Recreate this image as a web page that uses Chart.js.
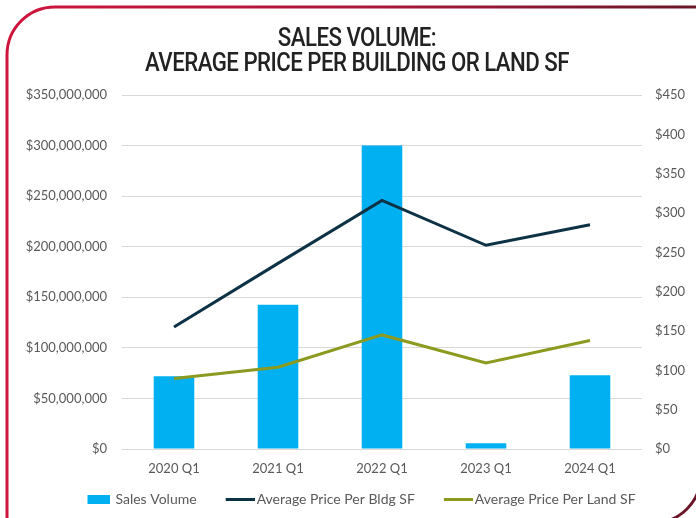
<!DOCTYPE html>
<html>
<head>
<meta charset="utf-8">
<script src="https://cdn.jsdelivr.net/npm/chart.js@4"></script>
<style>
  html, body { margin: 0; padding: 0; background: #fff; }
  .wrap { position: relative; width: 696px; height: 518px; }
  .title {
    position: absolute; left: 9px; top: 25px; width: 696px;
    text-align: center; color: #222;
    font-family: Roboto, sans-serif; font-weight: 500; font-size: 25px;
    line-height: 25px; letter-spacing: -0.6px;
    transform: scaleX(0.89); transform-origin: 348px 0;
  }
</style>
</head>
<body>
<div class="wrap">
  <canvas id="salesChart" width="696" height="518"></canvas>
  <div class="title">SALES VOLUME:<br>AVERAGE PRICE PER BUILDING OR LAND SF</div>
</div>
<script>
    // data
    const quarters = ['2020 Q1', '2021 Q1', '2022 Q1', '2023 Q1', '2024 Q1'];
    const salesVolume = [72000000, 142500000, 300000000, 5800000, 73000000];
    const pricePerBldgSf = [155, 236, 316, 259, 285];
    const pricePerLandSf = [89.5, 104, 145, 109.5, 138];

    const blue = '#00b0f0';
    const navy = '#0d3245';
    const olive = '#8d9a20';
    const labelFont = { family: 'Lato, "Open Sans", sans-serif', size: 13 };

    // legend symbols: coloured part sits on the right so it hugs the label text
    function legendSwatch(color, w, h, mark) {
        const c = document.createElement('canvas');
        c.width = w;
        c.height = h;
        const g = c.getContext('2d');
        g.fillStyle = color;
        g.fillRect(w - mark, 0, mark, h);
        return c;
    }

    // red rounded frame behind the chart
    const framePlugin = {
        id: 'frame',
        beforeDraw(chart) {
            const ctx = chart.ctx;
            ctx.save();
            const grad = ctx.createLinearGradient(0, 0, 696, 0);
            grad.addColorStop(0, '#d0143c');
            grad.addColorStop(0.55, '#a8183a');
            grad.addColorStop(1, '#6a1628');
            ctx.strokeStyle = grad;
            ctx.lineWidth = 3;
            ctx.beginPath();
            ctx.roundRect(7, 7, 694, 516, [48, 0, 48, 0]);
            ctx.stroke();
            ctx.restore();
        }
    };

    const ctx = document.getElementById('salesChart').getContext('2d');
    new Chart(ctx, {
        type: 'bar',
        data: {
            labels: quarters,
            datasets: [
                {
                    type: 'bar',
                    label: 'Sales Volume',
                    data: salesVolume,
                    backgroundColor: blue,
                    yAxisID: 'y',
                    barPercentage: 0.39,
                    categoryPercentage: 1,
                    order: 2
                },
                {
                    type: 'line',
                    label: 'Average Price Per Bldg SF',
                    data: pricePerBldgSf,
                    borderColor: navy,
                    backgroundColor: navy,
                    borderWidth: 3,
                    pointRadius: 0,
                    tension: 0,
                    yAxisID: 'y1',
                    order: 1
                },
                {
                    type: 'line',
                    label: 'Average Price Per Land SF',
                    data: pricePerLandSf,
                    borderColor: olive,
                    backgroundColor: olive,
                    borderWidth: 3,
                    pointRadius: 0,
                    tension: 0,
                    yAxisID: 'y1',
                    order: 0
                }
            ]
        },
        options: {
            responsive: false,
            devicePixelRatio: 1,
            animation: false,
            layout: { padding: { top: 95, left: 0, right: 0, bottom: 2 } },
            plugins: {
                title: { display: false },
                legend: {
                    position: 'bottom',
                    labels: {
                        usePointStyle: true,
                        pointStyleWidth: 48,
                        padding: 5,
                        color: '#595959',
                        font: { family: labelFont.family, size: 14 },
                        generateLabels(chart) {
                            return chart.data.datasets.map((ds, i) => ({
                                text: ds.label,
                                datasetIndex: i,
                                fontColor: '#595959',
                                pointStyle: i === 0
                                    ? legendSwatch(blue, 52, 9, 23)
                                    : legendSwatch(ds.borderColor, 58, 3, 29)
                            }));
                        }
                    }
                },
                tooltip: { enabled: false }
            },
            scales: {
                x: {
                    grid: { display: false },
                    border: { display: false },
                    ticks: { color: '#595959', font: labelFont, padding: 4 },
                    afterFit(scale) { scale.height = 38; }
                },
                y: {
                    position: 'left',
                    min: 0,
                    max: 350000000,
                    ticks: {
                        stepSize: 50000000,
                        color: '#595959',
                        font: labelFont,
                        padding: 15,
                        callback: v => '$' + v.toLocaleString('en-US')
                    },
                    grid: { color: '#d9d9d9', lineWidth: 1, drawTicks: false },
                    border: { display: false },
                    afterFit(scale) { scale.width = 122; }
                },
                y1: {
                    position: 'right',
                    min: 0,
                    max: 450,
                    ticks: {
                        stepSize: 50,
                        color: '#595959',
                        font: labelFont,
                        padding: 13,
                        callback: v => '$' + v
                    },
                    grid: { display: false, drawTicks: false },
                    border: { display: false },
                    afterFit(scale) { scale.width = 54; }
                }
            }
        },
        plugins: [framePlugin]
    });
</script>
</body>
</html>
